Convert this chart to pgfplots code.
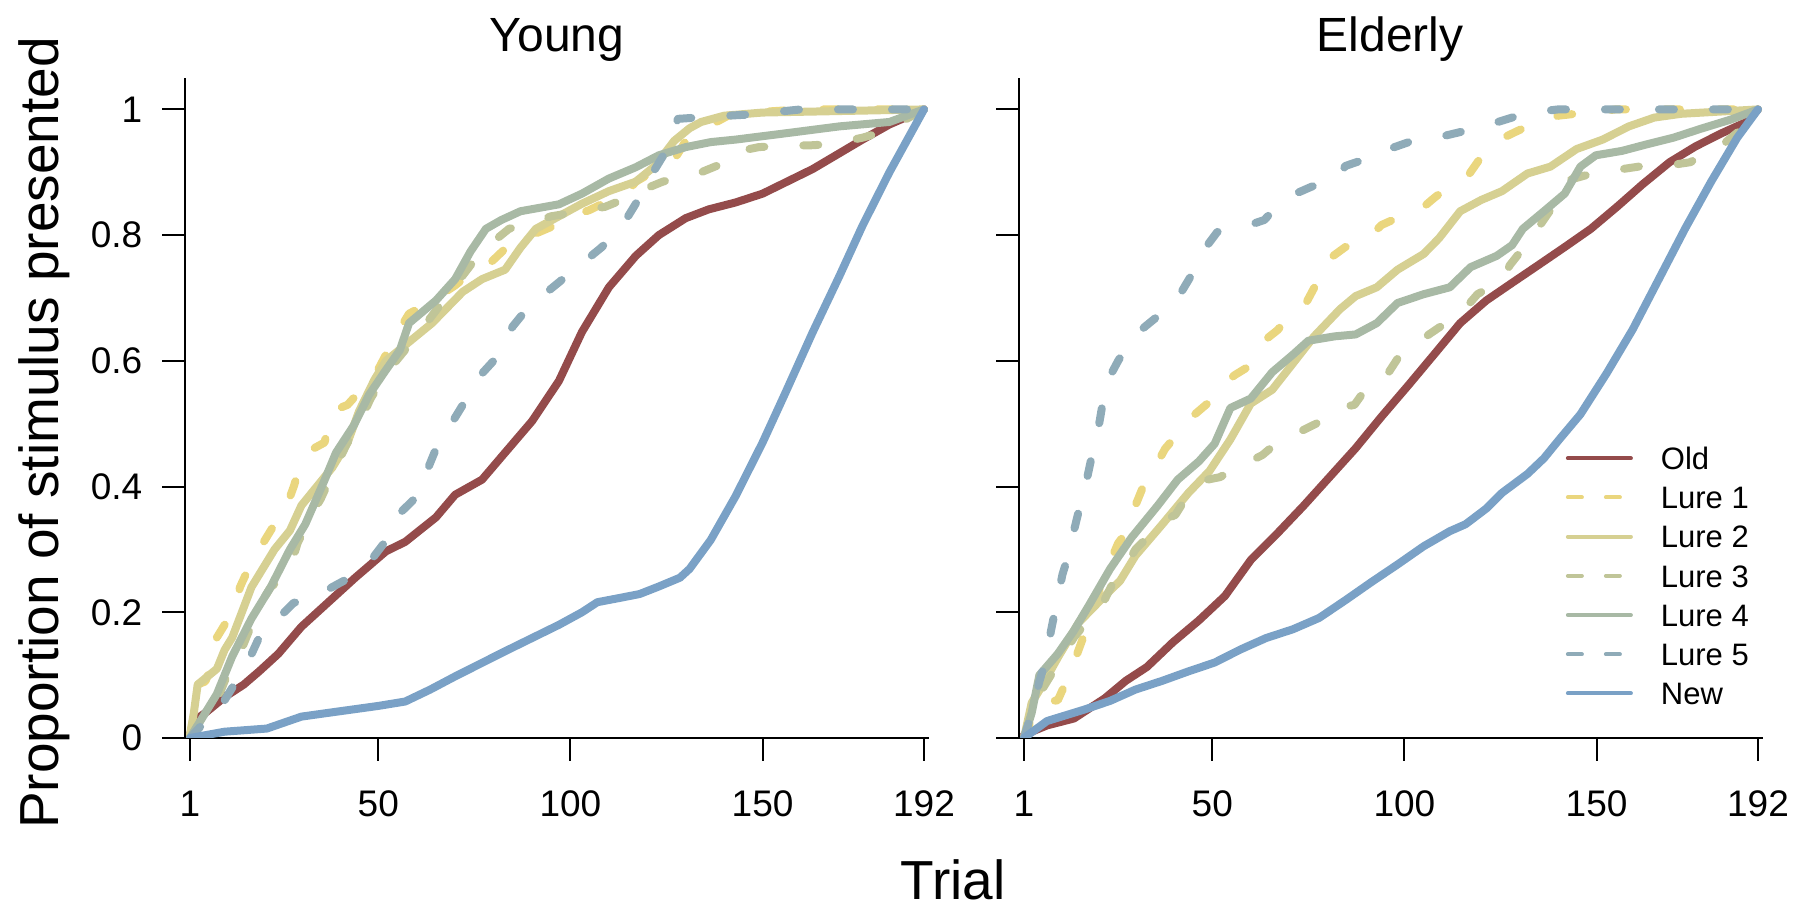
\documentclass[border=0pt]{standalone}
\usepackage{fontspec}
\setmainfont{Liberation Sans}
\usepackage{pgfplots}
\pgfplotsset{compat=1.18}
\definecolor{cOld}{RGB}{148,75,75}
\definecolor{cL1}{RGB}{234,214,126}
\definecolor{cL2}{RGB}{214,208,146}
\definecolor{cL3}{RGB}{192,197,152}
\definecolor{cL4}{RGB}{168,185,165}
\definecolor{cL5}{RGB}{143,171,184}
\definecolor{cNew}{RGB}{122,161,198}
\pgfplotsset{
  panel/.style={
    anchor=south west, scale only axis, width=186pt, height=165pt,
    xmin=-0.3, xmax=193.3, ymin=0, ymax=1.05,
    axis x line=bottom, axis y line=left,
    axis line style={-, line width=0.5pt, black},
    tick align=outside, major tick length=5.75pt,
    major tick style={line width=0.5pt, black},
    xtick={1,50,100,150,192}, ytick={0,0.2,0.4,0.6,0.8,1},
    tick label style={font=\fontsize{9.25}{11}\selectfont},
    /pgf/number format/assume math mode=true,
    yticklabel style={inner sep=0pt, xshift=-4.75pt},
    xticklabel style={inner sep=0pt, yshift=-7.25pt},
    legend image code/.code={\draw[##1] (0pt,0pt) -- (15.75pt,0pt);},
  },
  sline/.style={line width=2pt, line cap=round, line join=round,
    legend image post style={line width=1pt}},
  dline/.style={line width=2pt, line cap=round, line join=round,
    dash pattern=on 3.75pt off 9.75pt,
    legend image post style={line width=1pt, dash pattern=on 3.5pt off 6pt}},
}
\begin{document}
\begin{tikzpicture}
\path[use as bounding box] (0,0) rectangle (450pt,226.5pt);
% ---------------- Young ----------------
\begin{axis}[panel, at={(46.25pt,42pt)}]
\addplot[sline, cOld] coordinates {(1,0.005) (2,0.027) (5,0.04) (10,0.065) (15,0.085) (19,0.106) (24,0.134) (30,0.177) (37,0.216) (44,0.255) (48,0.276) (52,0.297) (57,0.312) (65,0.351) (70,0.387) (77,0.411) (83,0.454) (90,0.504) (97,0.568) (103,0.646) (110,0.717) (117,0.767) (123,0.8) (130,0.827) (136,0.841) (143,0.852) (150,0.866) (163,0.905) (176,0.952) (183,0.976) (192,1)};
\addplot[dline, cL1] coordinates {(1,0) (2,0.04) (3,0.085) (5,0.09) (7,0.12) (8,0.16) (11,0.19) (13,0.21) (14,0.24) (17,0.28) (19,0.3) (23,0.34) (25,0.35) (28,0.4) (29,0.42) (33,0.46) (36,0.47) (38,0.52) (42,0.53) (46,0.557) (49,0.575) (52,0.61) (54,0.635) (58,0.675) (61,0.685) (65,0.7) (70,0.72) (75,0.745) (79,0.755) (85,0.79) (90,0.8) (95,0.813) (99,0.827) (105,0.84) (110,0.855) (115,0.87) (117,0.885) (124,0.91) (127,0.92) (130,0.95) (134,0.962) (138,0.98) (141,0.99) (147,0.995) (160,1) (192,1)};
\addplot[sline, cL2] coordinates {(1,0.005) (2,0.04) (3,0.085) (6,0.1) (8,0.11) (10,0.14) (12,0.16) (14.5,0.2) (17,0.24) (20,0.27) (23,0.3) (27,0.33) (30,0.37) (34,0.4) (38,0.43) (42,0.47) (45,0.52) (49,0.57) (52,0.6) (56,0.62) (60,0.64) (64,0.66) (68,0.685) (72,0.71) (77,0.73) (83,0.745) (87,0.78) (91,0.81) (97,0.83) (103,0.85) (110,0.87) (117,0.885) (122,0.91) (127,0.95) (131,0.97) (134,0.98) (140,0.99) (150,0.995) (192,1)};
\addplot[dline, cL3] coordinates {(1,0) (4,0.03) (8,0.06) (10,0.09) (12,0.12) (14,0.135) (17,0.18) (18,0.2) (22,0.24) (24,0.25) (28,0.29) (29,0.31) (33,0.36) (35,0.38) (38,0.42) (42,0.47) (45,0.5) (48,0.54) (52,0.58) (56,0.61) (60,0.64) (65,0.68) (70,0.72) (75,0.76) (80,0.79) (84,0.81) (90,0.82) (95,0.83) (100,0.835) (104,0.84) (109,0.845) (115,0.86) (120,0.875) (124,0.885) (127,0.89) (132,0.895) (138,0.91) (141,0.93) (149,0.94) (155,0.942) (163,0.943) (168,0.945) (176,0.955) (180,0.962) (186,0.98) (192,1)};
\addplot[sline, cL4] coordinates {(1,0) (4,0.03) (8,0.07) (12,0.13) (17,0.19) (22,0.24) (27,0.3) (31,0.34) (36,0.41) (39,0.454) (43.6,0.497) (47.6,0.546) (51.6,0.582) (55.6,0.617) (58,0.66) (65,0.696) (70,0.73) (74,0.774) (78,0.81) (82,0.824) (87,0.838) (97,0.849) (103,0.866) (110,0.89) (117,0.908) (123,0.927) (130,0.94) (136.5,0.948) (143,0.952) (156,0.962) (170,0.973) (183,0.98) (192,1)};
\addplot[dline, cL5] coordinates {(1,0) (4,0.02) (7,0.055) (10,0.06) (13,0.09) (16,0.12) (19,0.16) (21,0.18) (23,0.185) (28,0.215) (32,0.22) (38,0.24) (41,0.25) (47,0.275) (49,0.29) (54,0.33) (56,0.36) (61,0.39) (62,0.415) (65,0.46) (67,0.48) (71,0.52) (73,0.54) (77,0.58) (80,0.6) (83,0.635) (85,0.655) (89,0.685) (92,0.7) (97,0.725) (100,0.74) (105,0.765) (108,0.78) (113,0.81) (115,0.83) (118,0.86) (120,0.885) (124,0.925) (125,0.945) (128,0.985) (133,0.987) (141,0.99) (147,0.992) (160,1) (192,1)};
\addplot[sline, cNew] coordinates {(1,0) (10,0.01) (21,0.015) (30,0.034) (37,0.04) (50,0.051) (57,0.058) (63.5,0.077) (70,0.098) (83,0.138) (97,0.18) (103,0.2) (107,0.216) (113,0.223) (118,0.229) (123,0.241) (128.5,0.255) (131,0.269) (136.5,0.315) (143,0.385) (150,0.47) (156,0.55) (163,0.645) (170,0.735) (176,0.815) (183,0.9) (192,1)};
\end{axis}
% ---------------- Elderly ----------------
\begin{axis}[panel, at={(254.75pt,42pt)}, yticklabels={},
  legend style={at={(0.734,0.442)}, anchor=north west, draw=none, fill=none,
    inner sep=0pt, row sep=4.2pt, column sep=7pt,
    font=\fontsize{7.75}{9}\selectfont,
    nodes={inner sep=0pt, text height=5.6pt, text depth=0pt}},
  legend cell align=left]
\addplot[sline, cOld] coordinates {(1,0.005) (7,0.02) (14,0.031) (22,0.063) (27.5,0.091) (33,0.113) (39.7,0.152) (46.5,0.187) (53.3,0.226) (60,0.283) (67,0.326) (73.7,0.369) (80.5,0.415) (87.3,0.461) (94,0.511) (101,0.561) (107.7,0.61) (114.5,0.66) (121.3,0.696) (128,0.724) (135,0.753) (141.7,0.781) (148.5,0.81) (155.3,0.845) (162,0.881) (169,0.916) (175.7,0.941) (182.5,0.962) (189,0.98) (192,1)};
\addlegendentry{Old}
\addplot[dline, cL1] coordinates {(1,0) (3,0.03) (5,0.056) (9.8,0.06) (12,0.09) (13,0.11) (14.6,0.13) (17,0.17) (19,0.21) (21.4,0.25) (22.7,0.27) (25.5,0.31) (28,0.33) (30,0.37) (32,0.4) (35,0.43) (37.7,0.46) (41.8,0.49) (44.5,0.51) (49.3,0.535) (51.3,0.557) (56,0.578) (60,0.593) (63.5,0.632) (67,0.649) (71,0.678) (74.4,0.692) (77.8,0.731) (79,0.756) (84.6,0.781) (89.4,0.788) (94,0.816) (98,0.827) (105,0.845) (107.7,0.859) (113,0.884) (116.6,0.895) (120.6,0.93) (123.4,0.948) (129.5,0.966) (133.5,0.977) (140,0.99) (146,0.994) (155,1) (192,1)};
\addlegendentry{Lure 1}
\addplot[sline, cL2] coordinates {(1,0) (3,0.056) (5.8,0.084) (10,0.13) (15.3,0.184) (22,0.226) (26,0.25) (30,0.29) (37,0.34) (43.8,0.39) (49.3,0.425) (54.7,0.475) (60,0.532) (65.6,0.554) (71,0.596) (76.5,0.639) (83.2,0.682) (87.3,0.703) (92.8,0.717) (98.2,0.745) (105,0.77) (109,0.795) (114.5,0.838) (120,0.856) (125.4,0.87) (132,0.898) (138,0.909) (144.8,0.937) (151.6,0.952) (158.4,0.973) (165,0.987) (172,0.993) (192,1)};
\addlegendentry{Lure 2}
\addplot[dline, cL3] coordinates {(1,0) (3,0.04) (6,0.08) (10,0.12) (14,0.16) (18,0.19) (22,0.22) (24,0.245) (28,0.28) (30,0.3) (31.6,0.31) (37.7,0.347) (40.4,0.355) (45,0.4) (48,0.41) (52,0.415) (56.4,0.43) (63,0.45) (66.9,0.47) (73.7,0.49) (77,0.5) (83,0.525) (87,0.53) (91.4,0.568) (95.5,0.578) (98.9,0.61) (102.3,0.625) (109,0.653) (111,0.66) (117,0.692) (119,0.706) (125.4,0.728) (127.4,0.752) (131,0.78) (133.5,0.8) (138,0.84) (143,0.888) (150,0.9) (156.6,0.905) (161,0.909) (170,0.912) (174.4,0.916) (181,0.941) (183,0.945) (188,0.97) (192,1)};
\addlegendentry{Lure 3}
\addplot[sline, cL4] coordinates {(1,0) (3,0.04) (5,0.1) (9.8,0.134) (13.9,0.17) (18,0.212) (23.4,0.269) (29,0.319) (35.7,0.369) (41,0.411) (46.5,0.44) (50.6,0.468) (54.7,0.525) (60,0.54) (65.6,0.582) (71,0.61) (75,0.632) (81.9,0.639) (87.3,0.642) (92.8,0.66) (98.2,0.692) (105,0.706) (111.8,0.717) (117.2,0.749) (124,0.767) (128,0.784) (130.8,0.81) (136.3,0.838) (141.7,0.866) (145.8,0.909) (149.8,0.927) (156.6,0.934) (163.4,0.945) (170,0.955) (177,0.969) (185,0.984) (192,1)};
\addlegendentry{Lure 4}
\addplot[dline, cL5] coordinates {(1,0) (3,0.04) (5,0.09) (7,0.13) (8,0.17) (10,0.23) (11,0.26) (13,0.3) (14,0.33) (16,0.38) (17.3,0.41) (18.7,0.45) (20,0.48) (21.4,0.53) (22,0.56) (25.5,0.6) (27.5,0.62) (31.6,0.65) (35,0.667) (39.4,0.69) (42,0.71) (45.9,0.75) (47,0.77) (51.3,0.805) (56.7,0.81) (63.5,0.824) (66,0.84) (71.7,0.866) (75.8,0.877) (82.6,0.89) (84.6,0.91) (92.8,0.927) (96,0.937) (103,0.952) (108.4,0.955) (115.9,0.966) (120.6,0.973) (128,0.987) (131.5,0.994) (140,1) (192,1)};
\addlegendentry{Lure 5}
\addplot[sline, cNew] coordinates {(1,0) (7,0.027) (16.6,0.045) (23.4,0.059) (30,0.077) (37,0.091) (43.8,0.106) (50.6,0.12) (57.4,0.141) (64,0.159) (71,0.173) (77.8,0.191) (84.6,0.219) (91.4,0.248) (98.2,0.276) (105,0.305) (111.8,0.329) (115.9,0.34) (121.3,0.365) (125.4,0.39) (132,0.42) (136.3,0.445) (140.3,0.475) (145.8,0.515) (152.6,0.58) (159.4,0.65) (166.2,0.73) (173,0.81) (179.8,0.885) (186.6,0.955) (192,1)};
\addlegendentry{New}
\end{axis}
% ---------------- texts ----------------
\node[anchor=base, inner sep=0pt, font=\fontsize{12}{14}\selectfont] at (139.25pt,213.5pt) {Young};
\node[anchor=base, inner sep=0pt, font=\fontsize{12}{14}\selectfont] at (347.5pt,213.5pt) {Elderly};
\node[anchor=base, inner sep=0pt, font=\fontsize{13.75}{16}\selectfont] at (238.25pt,1.5pt) {Trial};
\node[anchor=base, rotate=90, inner sep=0pt, font=\fontsize{13.75}{16}\selectfont] at (14.5pt,118.25pt) {Proportion of stimulus presented};
\end{tikzpicture}
\end{document}
